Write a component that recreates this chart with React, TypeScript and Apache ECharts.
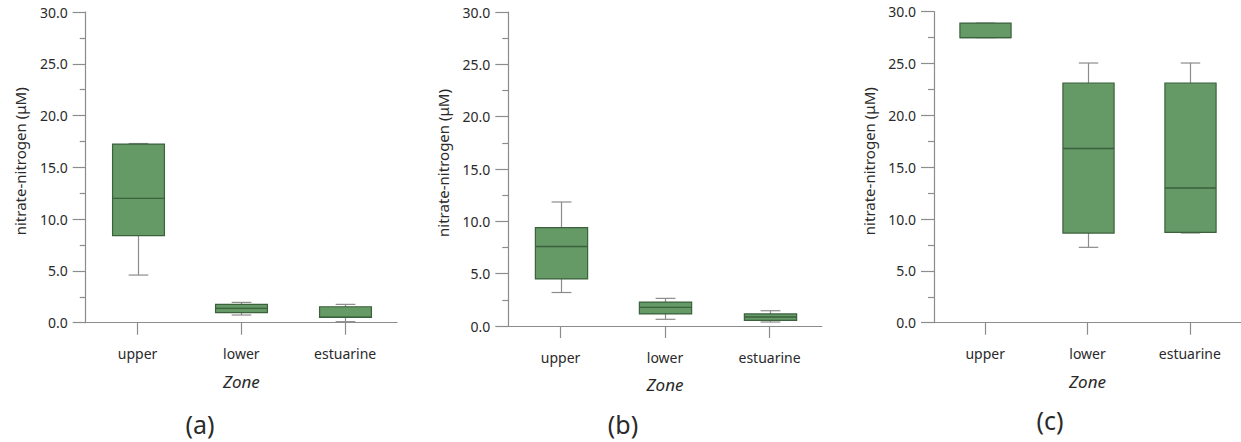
import React, { useEffect, useRef } from "react";
import * as echarts from "echarts";

// Sampling zones along the river
const zones = ["upper", "lower", "estuarine"];

// Five-number summaries per zone: [min, Q1, median, Q3, max] (µM)
const panelA = [
  [4.6, 8.4, 12.0, 17.25, 17.3],
  [0.74, 0.97, 1.38, 1.77, 1.96],
  [0.1, 0.51, 0.53, 1.54, 1.77],
];
const panelB = [
  [3.2, 4.5, 7.6, 9.4, 11.85],
  [0.64, 1.15, 1.78, 2.29, 2.64],
  [0.38, 0.54, 0.86, 1.15, 1.46],
];
const panelC = [
  [27.5, 27.5, 27.5, 28.9, 28.9],
  [7.27, 8.65, 16.8, 23.12, 25.05],
  [8.65, 8.72, 13.0, 23.12, 25.05],
];

const panelLabels = ["(a)", "(b)", "(c)"];
const yMin = 0;
const yMax = 30;
const yStep = 5;
const yTitle = "nitrate-nitrogen (μM)";
const xTitle = "Zone";

const FONT = "'Noto Sans', 'DejaVu Sans', sans-serif";
const TEXT = "#2a2a2a";
const AXIS = "#8c8c8c";
const FILL = "#659966";
const EDGE = "#3b613d";
const WHISKER = "#8c8c8c";

// plot-area placement of each panel
const grids = [
  { left: 85.7, top: 12, width: 311.3, height: 310.7 },
  { left: 508.3, top: 12, width: 313.5, height: 314 },
  { left: 934, top: 11.7, width: 311.4, height: 311 },
];
const labelPos = [
  { x: 200, y: 424 },
  { x: 623, y: 424 },
  { x: 1050, y: 420 },
];

function renderBox(_params: any, api: any) {
  const cat = api.value(0);
  const mn = api.value(1);
  const q1 = api.value(2);
  const md = api.value(3);
  const q3 = api.value(4);
  const mx = api.value(5);
  const catW = api.size([1, 0])[0];
  const boxW = catW * 0.5;
  const capW = catW * 0.19;
  const pMin = api.coord([cat, mn]);
  const pQ1 = api.coord([cat, q1]);
  const pMd = api.coord([cat, md]);
  const pQ3 = api.coord([cat, q3]);
  const pMax = api.coord([cat, mx]);
  const x = Math.round(pMin[0]) + 0.5;
  const wStyle = { stroke: WHISKER, lineWidth: 1.2 };
  return {
    type: "group",
    children: [
      { type: "line", shape: { x1: x, y1: pMax[1], x2: x, y2: pQ3[1] }, style: wStyle },
      { type: "line", shape: { x1: x, y1: pQ1[1], x2: x, y2: pMin[1] }, style: wStyle },
      { type: "line", shape: { x1: x - capW / 2, y1: pMax[1], x2: x + capW / 2, y2: pMax[1] }, style: wStyle },
      { type: "line", shape: { x1: x - capW / 2, y1: pMin[1], x2: x + capW / 2, y2: pMin[1] }, style: wStyle },
      {
        type: "rect",
        shape: { x: x - boxW / 2, y: pQ3[1], width: boxW, height: Math.max(pQ1[1] - pQ3[1], 1) },
        style: { fill: FILL, stroke: EDGE, lineWidth: 1.2 },
      },
      {
        type: "line",
        shape: { x1: x - boxW / 2, y1: pMd[1], x2: x + boxW / 2, y2: pMd[1] },
        style: { stroke: EDGE, lineWidth: 1.4 },
      },
    ],
  };
}

export default function App() {
  const ref = useRef<HTMLDivElement>(null);

  useEffect(() => {
    if (!ref.current) return;
    const chart = echarts.init(ref.current, undefined, { renderer: "svg" });
    const panels = [panelA, panelB, panelC];

    const option: any = {
      animation: false,
      backgroundColor: "#ffffff",
      textStyle: { fontFamily: FONT },
      grid: grids.map((g) => ({ ...g })),
      xAxis: grids.map((_, i) => ({
        type: "category",
        gridIndex: i,
        data: zones,
        boundaryGap: true,
        name: xTitle,
        nameLocation: "middle",
        nameGap: 50,
        nameTextStyle: { fontFamily: FONT, fontSize: 17, fontStyle: "italic", color: TEXT },
        axisLine: { show: true, lineStyle: { color: AXIS, width: 1.2 } },
        axisTick: { show: true, alignWithLabel: true, length: 12, lineStyle: { color: AXIS, width: 1.2 } },
        axisLabel: { margin: 24, fontFamily: FONT, fontSize: 14, color: TEXT },
        splitLine: { show: false },
      })),
      yAxis: grids.map((_, i) => ({
        type: "value",
        gridIndex: i,
        min: yMin,
        max: yMax,
        interval: yStep,
        name: yTitle,
        nameLocation: "middle",
        nameGap: 58,
        nameRotate: 90,
        nameTextStyle: { fontFamily: FONT, fontSize: 15, color: TEXT, padding: [0, 0, 0, 12] },
        axisLine: { show: true, lineStyle: { color: AXIS, width: 1.2 } },
        axisTick: { show: true, length: 13, lineStyle: { color: AXIS, width: 1.2 } },
        minorTick: { show: true, splitNumber: 2, length: 6, lineStyle: { color: AXIS, width: 1.2 } },
        axisLabel: {
          margin: 18,
          fontFamily: FONT,
          fontSize: 14,
          color: TEXT,
          formatter: (v: number) => v.toFixed(1),
        },
        splitLine: { show: false },
        minorSplitLine: { show: false },
      })),
      series: panels.map((rows, i) => ({
        type: "custom",
        xAxisIndex: i,
        yAxisIndex: i,
        encode: { x: 0, y: [1, 2, 3, 4, 5] },
        data: rows.map((r, k) => [k, ...r]),
        renderItem: renderBox,
      })),
      graphic: panelLabels.map((t, i) => ({
        type: "text",
        x: labelPos[i].x,
        y: labelPos[i].y,
        style: {
          text: t,
          fontFamily: FONT,
          fontSize: 25,
          lineHeight: 25,
          fill: TEXT,
          textAlign: "center",
          textVerticalAlign: "middle",
        },
      })),
    };

    chart.setOption(option);
    return () => chart.dispose();
  }, []);

  return (
    <div
      ref={ref}
      style={{ position: "absolute", left: 0, top: 0, width: 1241, height: 442 }}
    />
  );
}
